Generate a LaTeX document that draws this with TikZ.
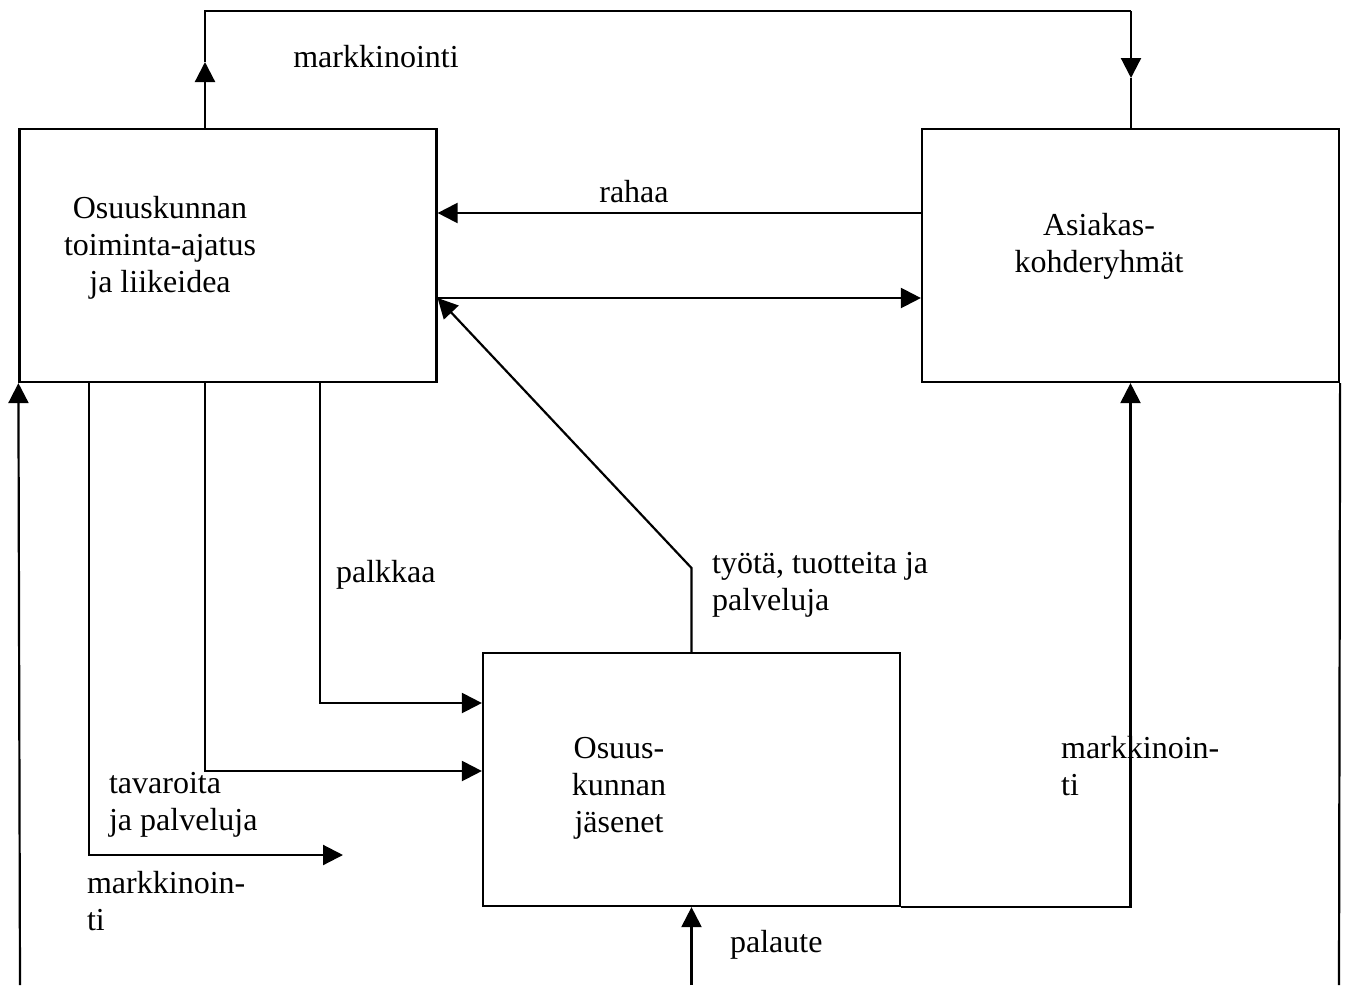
\documentclass[tikz,border=0pt]{standalone}
\usepackage{fontspec}
\setmainfont{Liberation Serif}
\usetikzlibrary{arrows.meta}
\begin{document}
\begin{tikzpicture}[x=1pt,y=-1pt,
  line width=2.2pt,
  every node/.style={font=\fontsize{32}{37}\selectfont, inner sep=0pt},
  boxnode/.style={draw, rectangle, minimum width=417pt, minimum height=253pt, line width=2.2pt},
  arr/.style={-{Triangle[length=20pt,width=20pt]}},
  lbl/.style={anchor=base west, align=left},
  clbl/.style={anchor=base, align=center}]
\useasboundingbox (0,0) rectangle (1346,985);
% boxes
\node[boxnode] (A) at (228,255.5) {};
\node[boxnode] (B) at (1130.5,255.5) {};
\node[boxnode] (C) at (691.5,779.5) {};
% named coordinates
\coordinate (t1) at (205,11);
\coordinate (t2) at (1131,11);
\coordinate (aUp) at (205,62);
\coordinate (bDown) at (1131,78);
\coordinate (bend) at (691.5,568);
\coordinate (mk) at (343,855);
\coordinate (lb) at (20,985);
\coordinate (rb) at (1339,985);
\coordinate (pb) at (691.5,985);
% top loop
\draw[arr] (A.north -| t1) -- (aUp);
\draw (aUp) -- (t1) -- (t2);
\draw[arr] (t2) -- (bDown);
\draw (bDown) -- (B.north -| t2);
% between A and B
\draw[arr] (B.west |- 0,213) -- (A.east |- 0,213);
\draw[arr] (A.east |- 0,298) -- (B.west |- 0,298);
% C to A diagonal
\draw[arr] (C.north) -- (bend) -- (A.east |- 0,298);
% A to C
\draw[arr] (A.south -| 320,0) -- (320,703) -- (C.west |- 0,703);
\draw[arr] (A.south -| 205,0) -- (205,771) -- (C.west |- 0,771);
\draw[arr] (A.south -| 89,0) -- (89,855) -- (mk);
% outer lines
\draw[arr] (lb) -- (A.south west);
\draw (B.south east) -- (rb);
\draw[arr] (pb) -- (C.south);
\draw[arr] (C.south east) -- (B.south |- C.south) -- (B.south);
% labels
\node[clbl] (tMark) at (376,67) {markkinointi};
\node[clbl] (tA) at (160,292) {Osuuskunnan\\toiminta-ajatus\\ja liikeidea};
\node[clbl] (tRahaa) at (634,202) {rahaa};
\node[clbl] (tB) at (1099,272) {Asiakas-\\kohderyhmät};
\node[lbl] (tPalk) at (335,582) {palkkaa};
\node[lbl] (tTyo) at (711,610) {työtä, tuotteita ja\\palveluja};
\node[clbl] (tC) at (619,832) {Osuus-\\kunnan\\jäsenet};
\node[lbl] (tMR) at (1060,795) {markkinoin-\\ti};
\node[lbl] (tPal) at (729,952) {palaute};
\node[lbl] (tTav) at (108,830) {tavaroita\\ja palveluja};
\node[lbl] (tML) at (86,930) {markkinoin-\\ti};
\end{tikzpicture}
\end{document}
